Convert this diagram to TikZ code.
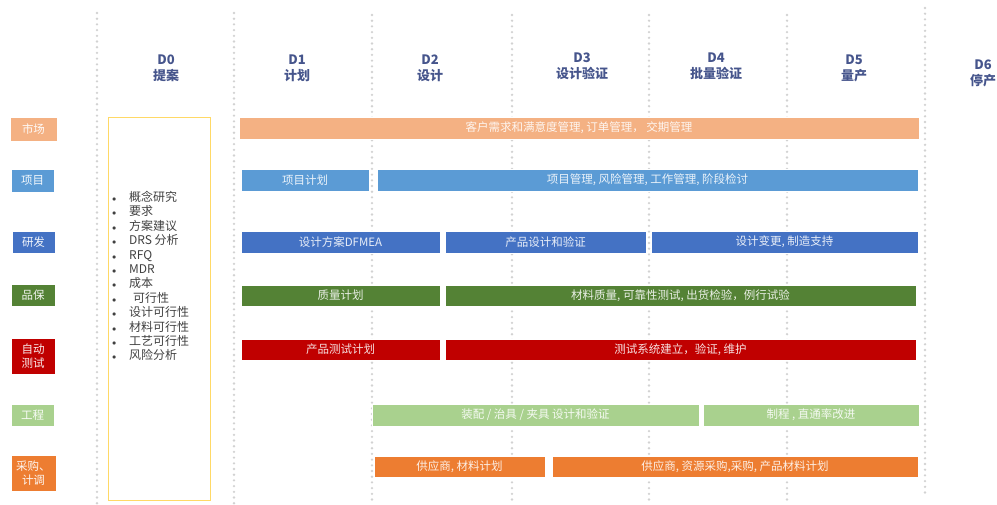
\documentclass[tikz,border=0pt]{standalone}
\usepackage{fontspec}
\setmainfont{Noto Sans CJK SC}
\usetikzlibrary{positioning}
\definecolor{hdblue}{HTML}{46558C}
\definecolor{listgrey}{HTML}{404040}
\definecolor{dotgrey}{HTML}{D2D2D2}
\definecolor{mkorange}{HTML}{F4B183}
\definecolor{pjblue}{HTML}{5B9BD5}
\definecolor{rdblue}{HTML}{4472C4}
\definecolor{qagreen}{HTML}{548235}
\definecolor{atred}{HTML}{C00000}
\definecolor{enggreen}{HTML}{A9D18E}
\definecolor{puorange}{HTML}{ED7D31}
\definecolor{d0yellow}{HTML}{FFD966}
\newcommand{\dzitem}[1]{\makebox[17pt][l]{\fontsize{8}{8}\selectfont$\bullet$}#1}

\begin{document}
\begin{tikzpicture}[x=1pt,y=-1pt,
    phase/.style={text=hdblue,font=\fontsize{13}{16}\selectfont\bfseries,align=center,inner sep=0pt},
    phaseline/.style={draw=dotgrey,line width=2.6pt,line cap=round,dash pattern=on 0pt off 5.7pt},
    rowtag/.style={fill=#1,draw=white,line width=0.6pt,text=white,text opacity=0.92,
      font=\fontsize{11.5}{14}\selectfont,align=center,inner sep=0pt,minimum height=22pt},
    bar/.style={fill=#1,draw=white,line width=0.6pt,text=white,text opacity=0.88,
      font=\fontsize{11.5}{13}\selectfont,inner sep=0pt,minimum height=22pt}]
       \useasboundingbox (0,0) rectangle (997,504);

       % phase separators
       \draw[phaseline] (97,13) -- (97,504);
       \draw[phaseline] (234,13) -- (234,504);
       \draw[phaseline] (372,15) -- (372,504);
       \draw[phaseline] (512,15) -- (512,504);
       \draw[phaseline] (649,15) -- (649,504);
       \draw[phaseline] (787,15) -- (787,504);
       \draw[phaseline] (925,8) -- (925,493);

       % phase headers
       \node[phase] (d0) at (166,68) {D0\\提案};
       \node[phase] (d1) at (297,68) {D1\\计划};
       \node[phase] (d2) at (430,68) {D2\\设计};
       \node[phase] (d3) at (582,66) {D3\\设计验证};
       \node[phase] (d4) at (716,66) {D4\\批量验证};
       \node[phase] (d5) at (854,68) {D5\\量产};
       \node[phase] (d6) at (983,73) {D6\\停产};

       % departments
       \node[rowtag=mkorange,minimum width=47pt,minimum height=24pt] (mk) at (33.5,129) {市场};
       \node[rowtag=pjblue,minimum width=43pt,minimum height=23pt] (pj) at (32.5,180.5) {项目};
       \node[rowtag=rdblue,minimum width=43pt] (rd) at (33.5,242) {研发};
       \node[rowtag=qagreen,minimum width=44pt] (qa) at (33,295) {品保};
       \node[rowtag=atred,minimum width=44pt,minimum height=36pt] (at) at (33,356) {自动\\测试};
       \node[rowtag=enggreen,minimum width=43pt] (eng) at (32.5,415) {工程};
       \node[rowtag=puorange,minimum width=45pt,minimum height=36pt] (pu) at (33.5,473) {采购、\\计调};

       % D0 proposal box
       \node[draw=d0yellow,line width=0.9pt,minimum width=102pt,minimum height=383pt] (d0box) at (159,308.5) {};
       \node[anchor=north west,inner sep=0pt,text=listgrey,font=\fontsize{12}{14.4}\selectfont,align=left] (d0list) at (112,191)
         {\dzitem{概念研究}\\ \dzitem{要求}\\ \dzitem{方案建议}\\ \dzitem{DRS 分析}\\ \dzitem{RFQ}\\ \dzitem{MDR}\\
          \dzitem{成本}\\ \dzitem{\hspace{4pt}可行性}\\ \dzitem{设计可行性}\\ \dzitem{材料可行性}\\ \dzitem{工艺可行性}\\ \dzitem{风险分析}};

       % activity bars
       \node[bar=mkorange,minimum width=680pt] (mkbar) at (579,128) {客户需求和满意度管理, 订单管理， 交期管理};

       \node[bar=pjblue,minimum width=128pt] (pjplan) at (305,180) {项目计划};
       \node[bar=pjblue,minimum width=541pt] (pjmgmt) at (647.5,180) {项目管理, 风险管理, 工作管理, 阶段检讨};

       \node[bar=rdblue,minimum width=199pt] (rdscheme) at (340.5,242) {设计方案DFMEA};
       \node[bar=rdblue,minimum width=201pt] (rddesign) at (545.5,242) {产品设计和验证};
       \node[bar=rdblue,minimum width=267pt] (rdchange) at (784.5,242) {设计变更, 制造支持};

       \node[bar=qagreen,minimum width=199pt,minimum height=21pt] (qaplan) at (340.5,295.5) {质量计划};
       \node[bar=qagreen,minimum width=471pt,minimum height=21pt] (qatest) at (680.5,295.5) {材料质量, 可靠性测试, 出货检验，例行试验};

       \node[bar=atred,minimum width=199pt,minimum height=21pt] (atplan) at (340.5,349.5) {产品测试计划};
       \node[bar=atred,minimum width=471pt,minimum height=21pt] (atsys) at (680.5,349.5) {测试系统建立，验证, 维护};

       \node[bar=enggreen,minimum width=327pt] (engfix) at (535.5,415) {装配 / 治具 / 夹具 设计和验证};
       \node[bar=enggreen,minimum width=216pt] (engproc) at (811,415) {制程 , 直通率改进};

       \node[bar=puorange,minimum width=171pt,minimum height=21pt] (pusup) at (459.5,466.5) {供应商, 材料计划};
       \node[bar=puorange,minimum width=366pt,minimum height=21pt] (pusrc) at (735,466.5) {供应商, 资源采购,采购, 产品材料计划};
      \end{tikzpicture}
\end{document}
